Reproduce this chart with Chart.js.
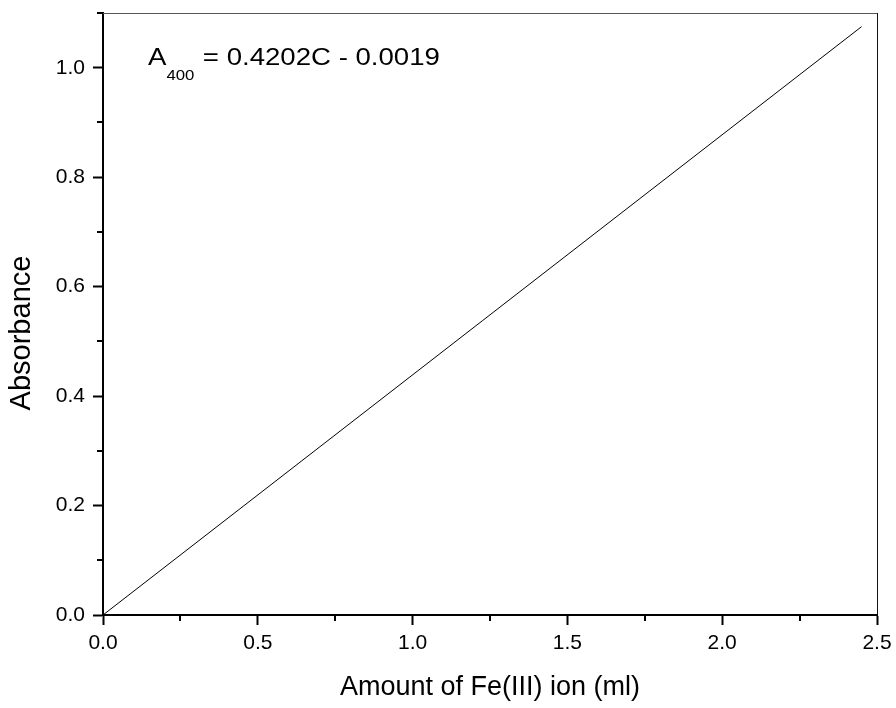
<!DOCTYPE html>
<html>
<head>
<meta charset="utf-8">
<script src="https://cdn.jsdelivr.net/npm/chart.js@4/dist/chart.umd.min.js"></script>
<style>
  html, body { margin: 0; padding: 0; background: #fff; }
  #wrap { width: 896px; height: 708px; }
</style>
</head>
<body>
<div id="wrap"><canvas id="c" width="896" height="708"></canvas></div>
<script>
// ---- data ----
const xValues = [0, 2.45];          // Amount of Fe(III) ion (ml)
const yValues = [0, 1.075];         // Absorbance
const xTicks = [0, 0.5, 1.0, 1.5, 2.0, 2.5];
const yTicks = [0, 0.2, 0.4, 0.6, 0.8, 1.0];
const xMinorTicks = [0.25, 0.75, 1.25, 1.75, 2.25];
const yMinorTicks = [0.1, 0.3, 0.5, 0.7, 0.9, 1.1];
const xTitle = 'Amount of Fe(III) ion (ml)';
const yTitle = 'Absorbance';
const eqMain = 'A';
const eqSub = '400';
const eqRest = '= 0.4202C - 0.0019';

const FONT = '"Liberation Sans", Arial, Helvetica, sans-serif';

const points = xValues.map((x, i) => ({ x: x, y: yValues[i] }));

const framePlugin = {
  id: 'frame',
  afterDraw(chart) {
    const ctx = chart.ctx;
    const a = chart.chartArea;
    const xs = chart.scales.x, ys = chart.scales.y;
    ctx.save();
    // top & right thin border
    ctx.lineWidth = 1;
    ctx.strokeStyle = '#555';
    ctx.beginPath();
    ctx.moveTo(a.left, a.top + 0.5);
    ctx.lineTo(a.right, a.top + 0.5);
    ctx.stroke();
    ctx.strokeStyle = '#111';
    ctx.beginPath();
    ctx.moveTo(a.right + 0.5, a.top);
    ctx.lineTo(a.right + 0.5, a.bottom);
    ctx.stroke();
    // minor ticks
    ctx.strokeStyle = '#000';
    ctx.lineWidth = 2;
    ctx.beginPath();
    xMinorTicks.forEach(v => {
      const px = Math.round(xs.getPixelForValue(v));
      ctx.moveTo(px, a.bottom);
      ctx.lineTo(px, a.bottom + 6);
    });
    yMinorTicks.forEach(v => {
      const py = Math.round(ys.getPixelForValue(v));
      ctx.moveTo(a.left, py);
      ctx.lineTo(a.left - 6, py);
    });
    ctx.stroke();
    // y title
    ctx.fillStyle = '#000';
    ctx.font = '29px ' + FONT;
    ctx.textAlign = 'center';
    ctx.textBaseline = 'middle';
    ctx.translate(22, 333);
    ctx.rotate(-Math.PI / 2);
    ctx.fillText(yTitle, 0, 0);
    ctx.restore();
    // equation annotation
    ctx.save();
    ctx.fillStyle = '#000';
    ctx.textBaseline = 'alphabetic';
    ctx.textAlign = 'left';
    ctx.translate(148, 65);
    ctx.scale(1.2, 1);
    ctx.font = '23px ' + FONT;
    ctx.fillText(eqMain, 0, 0);
    let w = ctx.measureText(eqMain).width;
    ctx.font = '14px ' + FONT;
    ctx.fillText(eqSub, w, 15);
    w += ctx.measureText(eqSub).width + 7;
    ctx.font = '23px ' + FONT;
    ctx.fillText(eqRest, w, 0);
    ctx.restore();
  }
};

new Chart(document.getElementById('c'), {
  type: 'scatter',
  data: {
    datasets: [{
      data: points,
      showLine: true,
      borderColor: '#000',
      borderWidth: 1,
      pointRadius: 0,
      fill: false,
      tension: 0
    }]
  },
  options: {
    responsive: false,
    animation: false,
    events: [],
    layout: { padding: { left: 0, top: 13, right: 19, bottom: 0 } },
    plugins: { legend: { display: false }, tooltip: { enabled: false } },
    scales: {
      x: {
        type: 'linear',
        min: 0, max: 2.5,
        afterBuildTicks: s => { s.ticks = xTicks.map(v => ({ value: v })); },
        afterFit: s => { s.height = 93; s.paddingLeft = 0; s.paddingRight = 0; },
        border: { display: true, color: '#000', width: 2 },
        grid: { drawOnChartArea: false, drawTicks: true, tickLength: 10, tickWidth: 2, tickColor: '#000' },
        ticks: {
          color: '#000', padding: 6,
          font: { family: FONT, size: 21 },
          callback: v => Number(v).toFixed(1)
        },
        title: {
          display: true, text: xTitle, color: '#000',
          font: { family: FONT, size: 27 },
          padding: { top: 4, bottom: 4 }
        }
      },
      y: {
        type: 'linear',
        min: 0, max: 1.1,
        afterBuildTicks: s => { s.ticks = yTicks.map(v => ({ value: v })); },
        afterFit: s => { s.width = 103; s.paddingTop = 0; s.paddingBottom = 0; },
        border: { display: true, color: '#000', width: 2 },
        grid: { drawOnChartArea: false, drawTicks: true, tickLength: 10, tickWidth: 2, tickColor: '#000' },
        ticks: {
          color: '#000', padding: 8,
          font: { family: FONT, size: 21 },
          callback: v => Number(v).toFixed(1)
        },
        title: { display: false }
      }
    }
  },
  plugins: [framePlugin]
});
</script>
</body>
</html>
